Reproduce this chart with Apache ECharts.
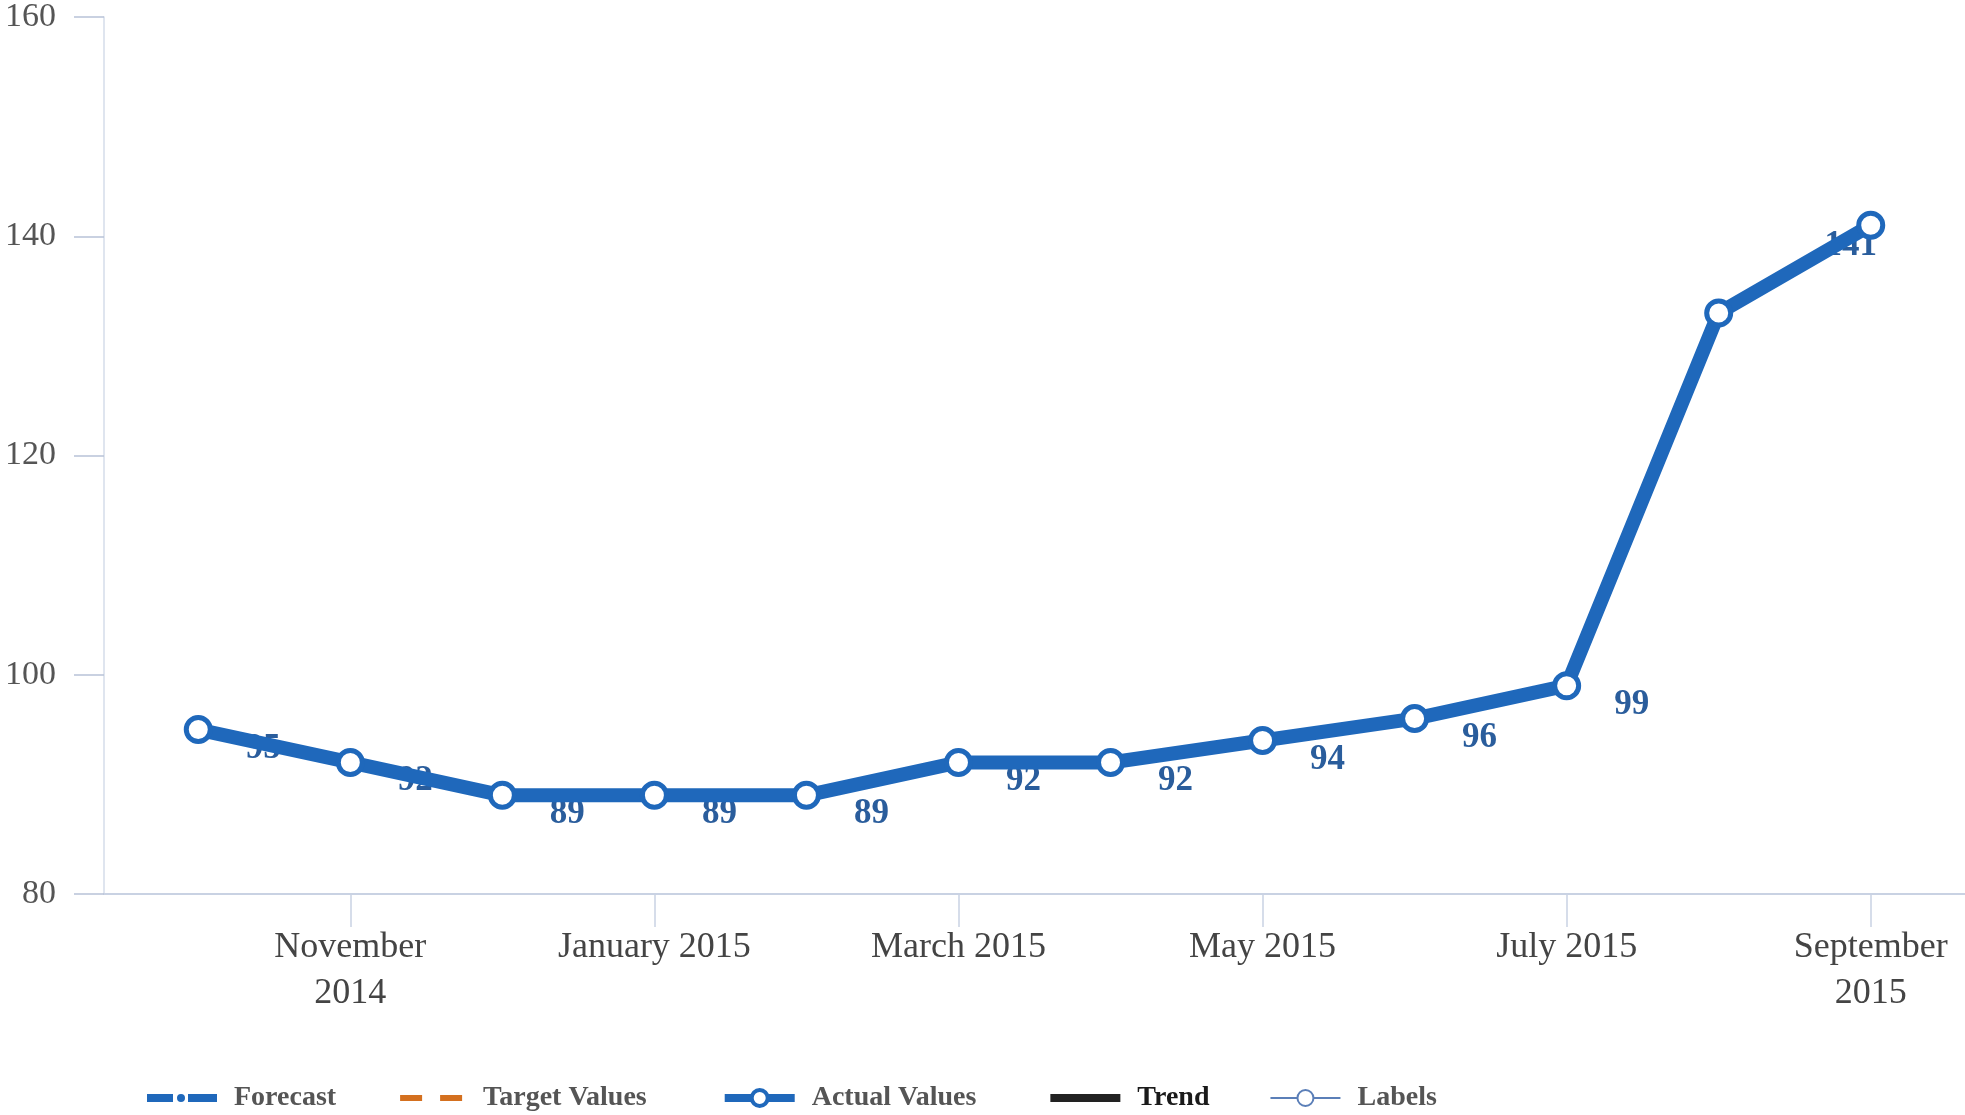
<!DOCTYPE html>
<html>
<head>
<meta charset="utf-8">
<script src="https://cdn.jsdelivr.net/npm/echarts@6/dist/echarts.min.js"></script>
<style>
html,body{margin:0;padding:0;background:#fff;}
#chart{width:1965px;height:1115px;}
</style>
</head>
<body>
<div id="chart"></div>
<script>
// Data
const months = ['October 2014','November 2014','December 2014','January 2015','February 2015','March 2015','April 2015','May 2015','June 2015','July 2015','August 2015','September 2015'];
const actualValues = [95, 92, 89, 89, 89, 92, 92, 94, 96, 99, 133, 141];
const tickIndexes = [1, 3, 5, 7, 9, 11];
const tickLabels = ['November\n2014', 'January 2015', 'March 2015', 'May 2015', 'July 2015', 'September\n2015'];
const yTicks = [80, 100, 120, 140, 160];
const legendNames = ['Forecast', 'Target Values', 'Actual Values', 'Trend', 'Labels'];

const serif = '"Liberation Serif","DejaVu Serif",serif';
const blue = '#1f68bb';

const pointData = actualValues.map((v, i) => [i, v]);
const labelData = actualValues.map((v, i) => {
  const d = { value: [i, v] };
  if (i === actualValues.length - 2) d.label = { show: false };
  if (i === actualValues.length - 1) d.label = { offset: [-20, 21] };
  return d;
});

// legend icon shapes (70 x 20 box, anchored by the two move-to points)
const iconForecast = 'path://M0,0M70,20M0,6h26v8h-26zM41,6h29v8h-29zM30,10a4,4 0 1,0 8,0a4,4 0 1,0 -8,0z';
const iconTarget = 'path://M0,0M70,20M4,7h22v6h-22zM44,7h22v6h-22z';
const iconTrend = 'path://M0,0M70,20M0,6h70v8h-70z';

const chart = echarts.init(document.getElementById('chart'), null, { renderer: 'canvas' });
chart.setOption({
  animation: false,
  backgroundColor: '#fff',
  grid: { left: 104, right: 0, top: 17, bottom: 221, containLabel: false },
  xAxis: {
    type: 'value',
    min: -0.62,
    max: actualValues.length - 1 + 0.62,
    splitLine: { show: false },
    axisLine: { show: true, onZero: false, lineStyle: { color: '#c9d2e3', width: 2 } },
    axisTick: { show: true, customValues: tickIndexes, length: 33, lineStyle: { color: '#c9d2e3', width: 1.5 } },
    axisLabel: {
      customValues: tickIndexes,
      formatter: (v) => { const k = tickIndexes.indexOf(Math.round(v)); return k >= 0 ? tickLabels[k] : ''; },
      fontFamily: serif, fontSize: 36, color: '#444', lineHeight: 46, margin: 31
    }
  },
  yAxis: {
    type: 'value',
    min: yTicks[0],
    max: yTicks[yTicks.length - 1],
    interval: 20,
    splitLine: { show: false },
    axisLine: { show: true, onZero: false, lineStyle: { color: '#d5dcea', width: 1.5 } },
    axisTick: { show: true, length: 30, lineStyle: { color: '#b8c2d8', width: 1.5 } },
    axisLabel: { fontFamily: serif, fontSize: 34, color: '#555', margin: 48 }
  },
  legend: {
    left: 142,
    bottom: -2,
    itemWidth: 70,
    itemHeight: 20,
    itemGap: 60,
    formatter: (name) => (name === 'Target Values' || name === 'Actual Values') ? name + '\u2002' : name,
    data: [
      { name: 'Forecast', icon: iconForecast, itemStyle: { color: '#1f68bb', borderWidth: 0 } },
      { name: 'Target Values', icon: iconTarget, itemStyle: { color: '#d4701f', borderWidth: 0 } },
      { name: 'Actual Values', lineStyle: { width: 8, color: blue },
        itemStyle: { color: '#fff', borderColor: blue, borderWidth: 4 } },
      { name: 'Trend', icon: iconTrend, itemStyle: { color: '#222', borderWidth: 0 }, textStyle: { color: '#1a1a1a' } },
      { name: 'Labels', lineStyle: { width: 2, color: '#5b7fb8', type: 'solid' },
        itemStyle: { color: '#5b7fb8', borderColor: '#5b7fb8', borderWidth: 2 } }
    ],
    textStyle: { fontFamily: serif, fontSize: 28, fontWeight: 'bold', color: '#555', padding: [0, 0, 0, 12] }
  },
  series: [
    {
      name: legendNames[0], type: 'line', data: [], symbol: 'none',
      lineStyle: { color: '#1f68bb', width: 8 }, itemStyle: { color: '#1f68bb' }
    },
    {
      name: legendNames[1], type: 'line', data: [], symbol: 'none',
      lineStyle: { color: '#d4701f', width: 6 }, itemStyle: { color: '#d4701f' }
    },
    {
      name: legendNames[2], type: 'line', data: pointData, z: 3,
      symbol: 'circle', symbolSize: 24, showSymbol: true,
      lineStyle: { color: blue, width: 14 },
      itemStyle: { color: '#fff', borderColor: blue, borderWidth: 5 },
      label: { show: false }
    },
    {
      name: legendNames[3], type: 'line', data: [], symbol: 'none',
      lineStyle: { color: '#222', width: 8 }, itemStyle: { color: '#222' }
    },
    {
      name: legendNames[4], type: 'line', data: labelData, z: 1,
      symbol: 'emptyCircle', symbolSize: 8,
      lineStyle: { color: '#5b7fb8', width: 1.5 },
      itemStyle: { color: '#fff', borderColor: '#5b7fb8', borderWidth: 1.5 },
      label: {
        show: true, position: 'inside', offset: [65, 19],
        formatter: (p) => String(p.value[1]),
        fontFamily: serif, fontSize: 35, fontWeight: 'bold', color: '#2a5d9c'
      }
    }
  ]
});
</script>
</body>
</html>
